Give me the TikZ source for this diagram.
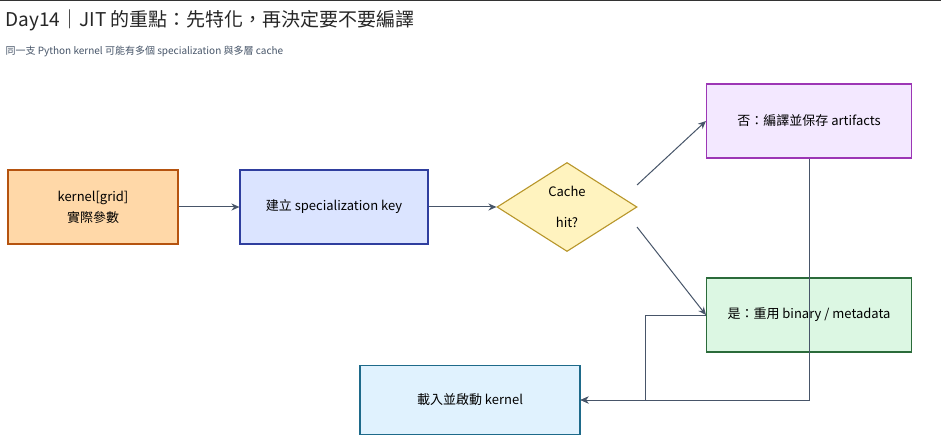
\documentclass[tikz,border=0pt]{standalone}
\usepackage{fontspec}
\setmainfont{Noto Sans CJK TC}
\usetikzlibrary{shapes.geometric,arrows.meta}
\definecolor{ln}{HTML}{475569}
\definecolor{bf}{HTML}{DBE4FF}\definecolor{bs}{HTML}{2F3E9E}
\definecolor{pf}{HTML}{F3E8FF}\definecolor{ps}{HTML}{9C36B5}
\definecolor{gf}{HTML}{DCF7E3}\definecolor{gs}{HTML}{2B6B3A}
\definecolor{of}{HTML}{FFD8A8}\definecolor{os}{HTML}{B5530F}
\definecolor{cf}{HTML}{E0F2FE}\definecolor{cs}{HTML}{1E6A8A}
\definecolor{yf}{HTML}{FFF3BF}\definecolor{ys}{HTML}{B8962A}
\tikzset{
 box/.style={draw, line width=1.1pt, minimum width=#1, minimum height=74pt, inner sep=2pt, align=center, font=\fontsize{13}{17}\selectfont},
 arr/.style={draw=ln, line width=1pt, -{Stealth[length=8pt,width=7pt]}},
}
\begin{document}
\begin{tikzpicture}[x=1pt,y=-1pt]
\useasboundingbox (0,0) rectangle (941,438);
\fill[white] (0,0) rectangle (941,438);
\draw[line width=1.5pt, black!80] (0,0.7) -- (941,0.7);
\node[anchor=west, font=\fontsize{19}{22}\selectfont, text=black!85] (title) at (2,20) {Day14｜JIT 的重點：先特化，再決定要不要編譯};
\node[anchor=west, font=\fontsize{10}{12}\selectfont, text=ln] (sub) at (2,51) {同一支 Python kernel 可能有多個 specialization 與多層 cache};
\node[box=170pt, fill=of, draw=os] (a) at (93,207) {kernel[grid]\\[4pt]實際參數};
\node[box=188pt, fill=bf, draw=bs] (b) at (334,207) {建立 specialization key};
\node[diamond, draw=ys, fill=yf, line width=1.1pt, minimum width=140pt, minimum height=89pt, inner sep=0pt, align=center, font=\fontsize{13}{17}\selectfont, aspect=1.57] (d) at (567,207) {Cache\\[14pt]hit?};
\node[box=205pt, fill=pf, draw=ps] (p) at (809,121) {否：編譯並保存 artifacts};
\node[box=205pt, fill=gf, draw=gs] (g) at (809,315) {是：重用 binary / metadata};
\node[box=220pt, minimum height=69pt, fill=cf, draw=cs] (l) at (470,400) {載入並啟動 kernel};
\draw[arr] (a.east) -- (b.west);
\draw[arr] (b.east) -- (d.west);
\coordinate (d1) at (637,185);
\coordinate (d2) at (637,227);
\draw[arr] (d1) -- (p.west);
\draw[arr] (d2) -- (g.west);
\draw[arr] (p.south) -- (809,400) -- (l.east);
\draw[arr] (g.west) -- (645,315) -- (645,400) -- (l.east);
\end{tikzpicture}
\end{document}
